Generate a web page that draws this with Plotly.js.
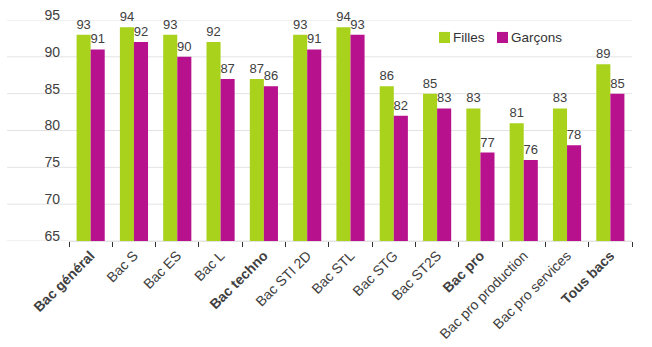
<!DOCTYPE html>
<html>
<head>
<meta charset="utf-8">
<script src="https://cdn.plot.ly/plotly-3.0.1.min.js"></script>
<style>
  html, body { margin: 0; padding: 0; background: #fff; }
  #chart { width: 652px; height: 347px; }
</style>
</head>
<body>
<div id="chart"></div>
<script>
// Taux de réussite au baccalauréat par série, filles / garçons (%)
const categories = [
  "<b>Bac général</b>", "Bac S", "Bac ES", "Bac L",
  "<b>Bac techno</b>", "Bac STI 2D", "Bac STL", "Bac STG", "Bac ST2S",
  "<b>Bac pro</b>", "Bac pro production", "Bac pro services",
  "<b>Tous bacs</b>"
];
const seriesNames = ["Filles", "Garçons"];
const filles  = [93, 94, 93, 92, 87, 93, 94, 86, 85, 83, 81, 83, 89];
const garcons = [91, 92, 90, 87, 86, 91, 93, 82, 83, 77, 76, 78, 85];
const yTicks  = [65, 70, 75, 80, 85, 90, 95];

const colors = ["#a9d21c", "#b8118e"];
const fontFamily = "Liberation Sans, Arial, sans-serif";
const labelFont = { family: fontFamily, size: 13, color: "#404040" };

function barTrace(name, values, color) {
  return {
    type: "bar",
    name: name,
    x: categories,
    y: values.map(v => v - 65),
    base: 65,
    text: values.map(String),
    textposition: "outside",
    textfont: labelFont,
    constraintext: "none",
    cliponaxis: false,
    marker: { color: color },
    hoverinfo: "skip"
  };
}

const data = [
  barTrace(seriesNames[0], filles, colors[0]),
  barTrace(seriesNames[1], garcons, colors[1])
];

// horizontal guides reaching into the left margin
const gridShapes = yTicks.map(v => ({
  type: "line", layer: "below",
  xref: "paper", x0: -0.11, x1: 1,
  yref: "y", y0: v, y1: v,
  line: { color: "#e3e3e3", width: 1 }
}));

// compact legend: square swatch followed closely by its label
const legendX = [0.6572, 0.7602];
const swatchW = 0.0196;
const legendShapes = seriesNames.map((n, i) => ({
  type: "rect", xref: "paper", yref: "paper",
  x0: legendX[i], x1: legendX[i] + swatchW,
  y0: 0.896, y1: 0.946,
  fillcolor: colors[i], line: { width: 0 }
}));
const legendLabels = seriesNames.map((n, i) => ({
  xref: "paper", yref: "paper",
  x: legendX[i] + swatchW + 0.002, y: 0.921,
  xanchor: "left", yanchor: "middle",
  text: n, showarrow: false,
  font: { family: fontFamily, size: 13.5, color: "#333" }
}));

const layout = {
  width: 652, height: 347,
  margin: { l: 69, r: 20, t: 20, b: 106 },
  paper_bgcolor: "#fff", plot_bgcolor: "#fff",
  font: { family: fontFamily, color: "#404040" },
  barmode: "group",
  bargap: 0.35,
  bargroupgap: 0,
  showlegend: false,
  xaxis: {
    type: "category",
    tickangle: -45,
    tickfont: { size: 14, color: "#404040" },
    ticks: "outside",
    tickson: "boundaries",
    ticklen: 5,
    tickcolor: "#333",
    ticklabelstandoff: 0,
    showline: true,
    linecolor: "#e3e3e3",
    showgrid: false,
    fixedrange: true
  },
  yaxis: {
    range: [65, 95],
    tickvals: yTicks,
    ticktext: yTicks.map(String),
    tickfont: { size: 14, color: "#404040" },
    showgrid: false,
    zeroline: false,
    showline: false,
    ticks: "",
    ticklabelstandoff: 8,
    ticklabelshift: -5,
    fixedrange: true
  },
  shapes: gridShapes.concat(legendShapes),
  annotations: legendLabels
};

Plotly.newPlot("chart", data, layout, { displayModeBar: false, staticPlot: true });
</script>
</body>
</html>
